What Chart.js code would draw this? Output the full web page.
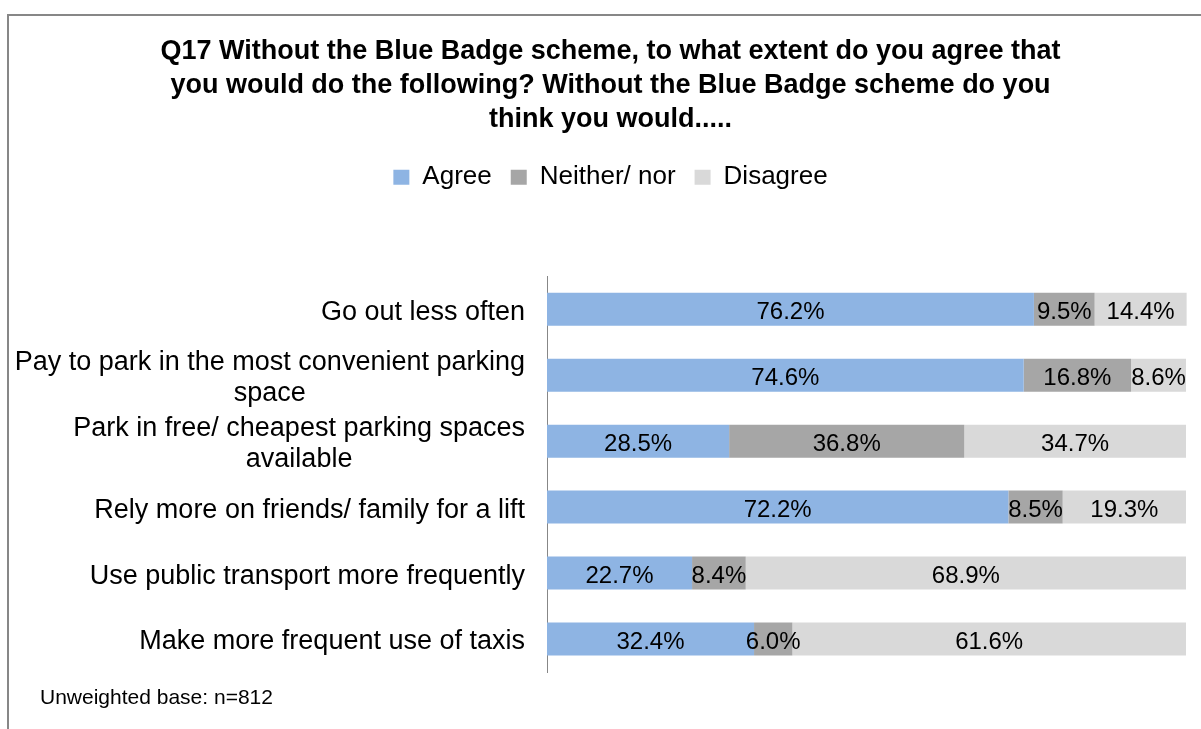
<!DOCTYPE html>
<html>
<head>
<meta charset="utf-8">
<script src="https://cdn.jsdelivr.net/npm/chart.js@4.4.1/dist/chart.umd.min.js"></script>
<style>
  html, body { margin: 0; padding: 0; background: #fff; overflow: hidden; }
  #wrap { width: 1201px; height: 729px; }
</style>
</head>
<body>
<div id="wrap"><canvas id="chart" width="1201" height="729"></canvas></div>
<script>
// Q17 - Blue Badge scheme
const categories = [
    'Go out less often',
    ['Pay to park in the most convenient parking', 'space'],
    ['Park in free/ cheapest parking spaces', 'available'],
    'Rely more on friends/ family for a lift',
    'Use public transport more frequently',
    'Make more frequent use of taxis'
];
const agree = [76.2, 74.6, 28.5, 72.2, 22.7, 32.4];
const neither = [9.5, 16.8, 36.8, 8.5, 8.4, 6.0];
const disagree = [14.4, 8.6, 34.7, 19.3, 68.9, 61.6];
const titleLines = [
    'Q17 Without the Blue Badge scheme, to what extent do you agree that',
    'you would do the following? Without the Blue Badge scheme do you',
    'think you would.....'
];
const baseNote = 'Unweighted base: n=812';

const FONT = '"Liberation Sans", Arial, sans-serif';

// frame + footnote
const framePlugin = {
    id: 'frame',
    beforeDraw(chart) {
        const ctx = chart.ctx;
        ctx.save();
        ctx.strokeStyle = '#878787';
        ctx.lineWidth = 2;
        ctx.strokeRect(8, 15, 1400, 1000);
        ctx.restore();
    },
    afterDraw(chart) {
        const ctx = chart.ctx;
        ctx.save();
        ctx.fillStyle = '#000';
        ctx.font = '21px ' + FONT;
        ctx.textAlign = 'left';
        ctx.textBaseline = 'middle';
        ctx.fillText(baseNote, 40, 698);
        ctx.restore();
    }
};

// category labels, wrapped lines centred on each other like Excel does
const catLabels = {
    id: 'catLabels',
    afterDraw(chart) {
        const ctx = chart.ctx;
        const y = chart.scales.y;
        const right = chart.chartArea.left - 22;
        ctx.save();
        ctx.font = '27px ' + FONT;
        ctx.fillStyle = '#000';
        ctx.textBaseline = 'middle';
        ctx.textAlign = 'center';
        categories.forEach((c, i) => {
            const lines = Array.isArray(c) ? c : [c];
            const w = Math.max(...lines.map(l => ctx.measureText(l).width));
            const cx = right - w / 2;
            const cy = y.getPixelForValue(i) + 3;
            const lh = 31;
            lines.forEach((l, j) => {
                ctx.fillText(l, cx, cy + (j - (lines.length - 1) / 2) * lh);
            });
        });
        ctx.restore();
    }
};

// value labels in the middle of each segment
const valueLabels = {
    id: 'valueLabels',
    afterDatasetsDraw(chart) {
        const ctx = chart.ctx;
        ctx.save();
        ctx.font = '24px ' + FONT;
        ctx.fillStyle = '#000';
        ctx.textAlign = 'center';
        ctx.textBaseline = 'middle';
        chart.data.datasets.forEach((ds, di) => {
            chart.getDatasetMeta(di).data.forEach((bar, i) => {
                const cx = (bar.x + bar.base) / 2;
                ctx.fillText(ds.data[i].toFixed(1) + '%', cx, bar.y + 3);
            });
        });
        ctx.restore();
    }
};

new Chart(document.getElementById('chart'), {
    type: 'bar',
    data: {
        labels: categories,
        datasets: [
            { label: 'Agree', data: agree, backgroundColor: '#8EB4E3' },
            { label: 'Neither/ nor', data: neither, backgroundColor: '#A6A6A6' },
            { label: 'Disagree', data: disagree, backgroundColor: '#D9D9D9' }
        ]
    },
    options: {
        indexAxis: 'y',
        responsive: false,
        animation: false,
        layout: { padding: { left: 35, right: 15, top: 0, bottom: 57 } },
        datasets: { bar: { categoryPercentage: 1, barPercentage: 0.5, clip: false } },
        scales: {
            x: {
                stacked: true, min: 0, max: 100, position: 'top',
                grid: { display: false }, border: { display: false },
                ticks: { display: false },
                afterFit(s) { s.height = 76; }
            },
            y: {
                stacked: true,
                grid: { display: false },
                border: { display: true, color: '#878787', width: 1 },
                ticks: { display: false },
                afterFit(s) { s.width = 512; }
            }
        },
        plugins: {
            title: {
                display: true,
                text: titleLines,
                color: '#000',
                font: { family: FONT, size: 27, weight: 'bold', lineHeight: 1.25 },
                padding: { top: 35, bottom: 9 }
            },
            legend: {
                position: 'top',
                labels: {
                    color: '#000',
                    font: { family: FONT, size: 26 },
                    boxWidth: 16, boxHeight: 15,
                    padding: 19
                }
            },
            tooltip: { enabled: false }
        }
    },
    plugins: [framePlugin, catLabels, valueLabels]
});
</script>
</body>
</html>
